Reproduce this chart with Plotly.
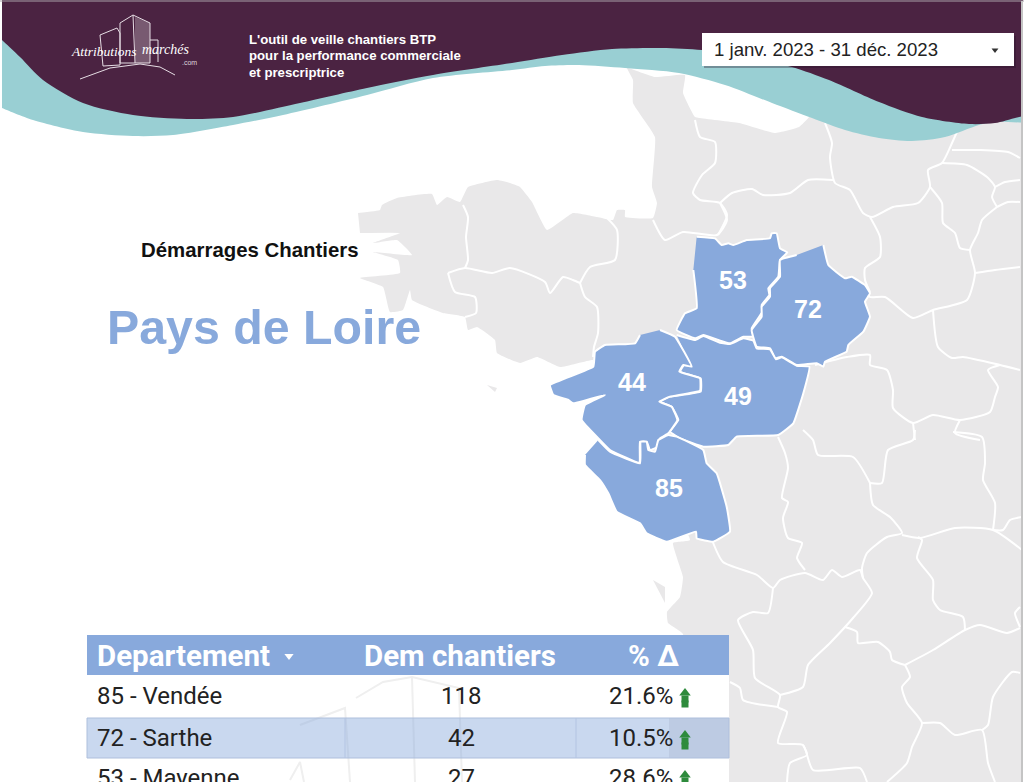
import plotly.graph_objects as go

# ---------- table data ----------
departements = ["85 - Vendée", "72 - Sarthe", "53 - Mayenne"]
dem_chantiers = [118, 42, 27]
pct_delta = ["21.6%", "10.5%", "28.6%"]
table_headers = ["Departement", "Dem chantiers", "% Δ"]
# ---------- texts ----------
title_small = "Démarrages Chantiers"
title_big = "Pays de Loire"
date_range = "1 janv. 2023 - 31 déc. 2023"
baseline = ["L'outil de veille chantiers BTP", "pour la performance commerciale", "et prescriptrice"]

# ---------- map outlines (image pixels) ----------
land = [(358,213),(380,210),(382,205),(397,198),(432,194),(437,205),(447,197),(460,202),(468,187),(497,180),
        (510,183),(520,187),(532,202),(547,230),(573,213),(597,217),(613,220),(617,210),(625,210),(625,217),
        (653,218),(657,203),(652,187),(655,137),(633,103),(633,80),(627,68),(655,77),(685,75),(683,93),(695,117),
        (699,118),(739,123),(775,133),(799,127),(809,117),(830,60),(1021,60),(1021,782),(669,782),(669,720),
        (683,634),(668,623),(667,612),(680,597),(683,577),(673,543),(690,540),(640,450),(600,365),(593,360),
        (560,367),(537,357),(520,363),(497,353),(495,340),(477,327),(468,330),(465,317),(443,313),(412,300),
        (410,290),(403,310),(390,312),(383,287),(360,278),(400,273),(398,260),(373,252),(412,255),(397,240),
        (373,243),(400,233),(360,233)]
islands = [[(653,580),(665,587),(665,603)], [(487,385),(497,388),(495,392)]]
borders = [
    [(463,205),(468,217),(466,237),(468,260),(465,268)],
    [(448,273),(465,268),(492,273),(510,268),(545,282),(550,293),(563,277),(573,280),(580,283)],
    [(448,273),(455,292),(475,297),(476,313),(465,317)],
    [(580,283),(585,297),(597,307),(598,333),(594,347),(593,357)],
    [(580,283),(590,267),(615,260),(617,230),(607,218)],
    [(653,220),(665,240),(683,232),(717,235),(727,220),(720,203)],
    [(695,120),(700,137),(715,142),(715,163),(702,175),(693,193),(700,200),(720,203),(727,215),(718,235)],
    [(720,203),(732,193),(752,189),(763,195),(790,193),(808,180),(833,180)],
    [(825,123),(832,143),(830,157),(835,183),(850,190),(863,213),(872,217),(893,207),(918,203),(930,187),
     (928,170),(942,163),(952,143),(960,125)],
    [(942,163),(967,165),(987,177),(995,187),(992,197),(997,207)],
    [(952,150),(980,150),(1008,152),(1020,158)],
    [(930,187),(942,203),(943,223),(955,233),(960,248),(970,250)],
    [(997,207),(982,220),(978,233),(970,250),(975,273),(967,300),(933,310),(913,318),(885,297),(870,297),(867,292)],
    [(975,273),(995,270),(1020,267)],
    [(870,217),(880,237),(880,257),(865,268),(865,280),(870,292)],
    [(933,310),(938,347),(952,358),(963,357),(1000,365),(1020,370)],
    [(1000,365),(988,370),(998,387),(995,397),(990,412),(960,420),(933,415),(913,423),(893,408),(893,390),
     (887,370),(870,365),(870,355),(847,357),(815,365)],
    [(960,420),(955,433),(980,440)],
    [(913,423),(915,440)],
    [(995,187),(1005,182),(1020,180)],
    [(997,207),(1008,202),(1020,202)],
    [(778,437),(785,453),(788,468),(782,498),(788,502),(783,518),(788,538),(802,543),(797,558),(805,570)],
    [(712,540),(723,562),(757,575),(773,588),(780,580),(805,573),(823,580),(832,570),(842,577),(860,570),
     (863,578),(872,593),(853,618),(830,643),(808,665),(803,687),(780,695)],
    [(773,588),(768,613),(753,612),(738,620),(753,650),(755,678),(780,695),(778,707),(787,712),(778,743),
     (803,745),(813,770),(860,768),(867,782)],
    [(730,682),(740,688),(743,700),(778,707)],
    [(803,745),(807,755),(790,763),(787,782)],
    [(845,627),(857,632),(858,643),(878,642),(890,652),(892,660),(905,665)],
    [(905,665),(910,677),(902,687),(907,703),(922,723),(912,747),(907,763),(887,782)],
    [(922,723),(940,723),(955,735),(982,730),(988,763),(995,782)],
    [(982,730),(988,725),(993,697),(1012,672),(1020,673)],
    [(905,665),(933,650),(965,630),(980,625),(1007,633),(1020,628)],
    [(965,630),(963,617),(940,610),(933,600),(933,580),(917,558),(922,540),(918,537)],
    [(870,483),(873,505),(890,517),(902,533),(887,537),(867,553),(862,568),(863,578)],
    [(902,535),(920,538),(955,528),(993,530),(1022,550)],
    [(993,530),(995,503),(983,480),(985,463),(982,437),(953,432)],
    [(870,483),(853,457),(818,455),(813,440),(803,430)],
    [(870,483),(882,483),(888,450),(913,440),(915,430)],
    [(993,530),(1003,530),(1010,520),(1022,517)],
    [(1020,607),(1015,613),(1020,627)],
]
# Pays de la Loire departments, (x, y) relative to the crop origin, thirds of a pixel
dept_codes = ["53", "72", "49", "44", "85"]
dept_label_xy = [(733,280), (808,309), (738,396), (632,382), (669,488)]
dept_53 = [(500,50),(555,55),(575,75),(595,70),(610,75),(650,60),(720,55),(725,40),(740,40),(750,85),(772,97),
           (750,120),(745,170),(715,205),(718,225),(695,255),(697,275),(665,325),(670,350),(640,350),(600,370),
           (565,360),(520,345),(495,355),(440,330),(465,280),(500,265),(490,150)]
dept_72 = [(880,75),(895,135),(945,175),(965,170),(1005,195),(1020,220),(1005,245),(1020,290),(1000,335),(955,375),
           (950,395),(885,425),(880,440),(860,430),(800,435),(755,410),(735,415),(720,385),(680,380),(665,330),
           (695,290),(695,260),(720,230),(720,205),(750,170),(750,120),(800,105)]
dept_49 = [(440,345),(495,360),(520,348),(570,368),(600,372),(640,355),(670,362),(680,385),(720,388),(738,418),
           (755,412),(800,437),(838,440),(820,520),(790,610),(745,645),(620,650),(595,675),(520,680),(450,655),
           (420,635),(445,600),(425,560),(390,545),(420,530),(512,515),(512,475),(450,455),(462,435),(482,437)]
dept_44 = [(390,330),(435,350),(485,440),(460,435),(448,455),(510,475),(510,512),(420,530),(388,545),(425,560),
           (442,600),(415,640),(390,655),(385,680),(360,690),(350,665),(330,665),(328,728),(240,690),(205,655),
           (155,600),(165,555),(225,525),(130,550),(115,540),(70,525),(60,495),(190,440),(195,395),(225,375),
           (315,370),(330,345)]
dept_85 = [(205,660),(240,695),(330,730),(332,665),(350,665),(355,690),(375,695),(385,660),(415,645),(440,650),
           (520,690),(530,730),(560,760),(590,860),(600,935),(550,965),(500,955),(498,935),(410,965),(350,940),
           (330,910),(260,875),(235,820),(210,780),(165,735),(165,705)]

# ---------- header wave ----------
maroon_edge = [(0,38),(2,40),(20,57),(43,80),(83,103),(133,115),(187,119),(233,117),(300,103),(367,88),(433,75),(512,63),
               (562,55),(612,49),(662,48),(702,50),(750,56),(792,67),(829,80),(879,102),(922,117),(969,124),(995,123),(1024,116)]
teal_edge = [(0,107),(2,108),(33,120),(83,132),(133,136),(173,135),(233,125),(283,115),(367,95),(433,78),(512,70),(545,66),
             (579,65),(625,68),(679,73),(725,85),(772,103),(812,118),(845,130),(879,138),(912,141),(945,137),(979,125),(995,122)]

# ---------- logo sketch ----------
logo_fill = [(135,17),(150,23),(150,63),(135,63)]
logo_lines = [
    [(100,35),(117,28),(120,33),(120,65),(103,66),(100,35)],
    [(120,23),(133,15),(150,23),(150,63),(120,63),(120,23)],
    [(133,15),(135,63)],
    [(150,40),(158,40),(158,62)],
    [(80,79),(110,68),(140,64),(160,67),(175,75)],
]
watermark_lines = [
    [(356,698),(383,682),(412,677),(459,688),(462,782)],
    [(412,677),(415,782)],
    [(300,725),(345,708),(350,782)],
    [(290,780),(300,762),(304,782)],
]

MAROON, TEAL, BLUE, LAND = "#4b2342", "#99cfd3", "#88a9dc", "#e9e8e9"
TXT = "#222222"
fig = go.Figure()

def xs(p): return [q[0] for q in p]
def ys(p): return [q[1] for q in p]
def poly(p, fill, line=None, w=0, smooth=0):
    ln = dict(color=line or fill, width=w)
    if smooth:
        ln.update(shape="spline", smoothing=smooth)
    fig.add_trace(go.Scatter(x=xs(p), y=ys(p), mode="lines", fill="toself", fillcolor=fill,
                             line=ln, hoverinfo="skip", showlegend=False))
def path(p, color, w, smooth=0):
    ln = dict(color=color, width=w)
    if smooth:
        ln.update(shape="spline", smoothing=smooth)
    fig.add_trace(go.Scatter(x=xs(p), y=ys(p), mode="lines", line=ln, hoverinfo="skip", showlegend=False))
def rect(x0, y0, x1, y1, fill):
    poly([(x0,y0),(x1,y0),(x1,y1),(x0,y1),(x0,y0)], fill)
def text(x, y, s, size, color=TXT, family="Liberation Sans", bold=False, anchor="left", italic=False):
    s = f"<b>{s}</b>" if bold else s
    s = f"<i>{s}</i>" if italic else s
    fig.add_annotation(x=x, y=y, text=s, showarrow=False, xanchor=anchor, yanchor="middle",
                       font=dict(family=family, size=size, color=color), borderpad=0, borderwidth=0)

# map
poly(land, LAND, smooth=0.35)
for isl in islands:
    poly(isl, LAND)
for b in borders:
    path(b, "#ffffff", 2, smooth=0.6)
for d in (dept_53, dept_72, dept_49, dept_44, dept_85):
    pts = [(530 + a / 3, 220 + c / 3) for a, c in d]
    poly(pts, BLUE, "#ffffff", 2, smooth=0.3)
for code, (lx, ly) in zip(dept_codes, dept_label_xy):
    text(lx, ly, code, 25, "#ffffff", bold=True, anchor="center")

# wave
poly([(-40,-40),(-40,38)] + teal_edge + [(1060,116),(1060,-40)], TEAL, smooth=0.8)
poly([(-40,-40),(-40,38)] + maroon_edge + [(1060,116),(1060,-40)], MAROON, smooth=0.8)
rect(0, 0, 2, 140, "#ffffff")
rect(1023, 0, 1024, 782, "#ffffff")
path([(0,1),(1024,1)], "#a9a2a8", 1)
path([(1022,1),(1022,782)], "#c4c4c4", 2)
poly(logo_fill, "rgba(255,255,255,0.25)")
for l in logo_lines:
    path(l, "#e6dde4", 1)
text(71, 51, "Attributions", 13.5, "#ffffff", family="Liberation Serif", italic=True)
text(142, 49, "marchés", 14, "#ffffff", family="Liberation Serif", italic=True)
text(197, 62, ".com", 7, "#ddd4dc", anchor="right")
for i, line in enumerate(baseline):
    text(249, 39 + i * 16.5, line, 13.2, "#ffffff", bold=True)

# date selector
rect(704, 36, 1016, 68, "rgba(40,20,40,0.35)")
rect(702, 33, 1014, 66, "#ffffff")
text(714, 49.5, date_range, 18.6, TXT)
fig.add_trace(go.Scatter(x=[995], y=[50], mode="markers", hoverinfo="skip", showlegend=False,
                         marker=dict(symbol="triangle-down", size=6, color="#333333")))

# table
rect(87, 675, 729, 718, "#ffffff")
rect(87, 718, 669, 758, "#ffffff")
rect(87, 758, 729, 782, "#ffffff")
for l in watermark_lines:
    path(l, "#efefef", 2)
rect(87, 635, 729, 675, BLUE)
rect(87, 718, 729, 758, "rgba(136,169,220,0.45)")
path([(87,718),(729,718),(729,758),(87,758),(87,718)], "#aebfdc", 1)
for sx in (345, 576):
    path([(sx,718),(sx,758)], "#b3c4e2", 1)
text(97, 656, table_headers[0], 29.5, "#ffffff", family="Roboto", bold=True)
text(460, 656, table_headers[1], 29.5, "#ffffff", family="Roboto", bold=True, anchor="center")
text(653, 656, table_headers[2], 29.5, "#ffffff", family="Roboto", bold=True, anchor="center")
fig.add_trace(go.Scatter(x=[289], y=[656], mode="markers", hoverinfo="skip", showlegend=False,
                         marker=dict(symbol="triangle-down", size=8, color="#ffffff")))
row_y = [696, 738, 778]
for dep, n, p, y in zip(departements, dem_chantiers, pct_delta, row_y):
    text(97, y, dep, 24, family="Roboto")
    text(461, y, str(n), 24, family="Roboto", anchor="center")
    text(673, y, p, 24, family="Roboto", anchor="right")
for dy, sym, sz in ((8, "square", 7), (3, "square", 7), (-3, "triangle-up", 10)):
    fig.add_trace(go.Scatter(x=[685] * 3, y=[y + dy for y in row_y], mode="markers", hoverinfo="skip", showlegend=False,
                             marker=dict(symbol=sym, size=sz, color="#2e8b3c", line=dict(width=0))))

# titles
text(141, 250, title_small, 20.4, "#111111", bold=True)
text(107, 327, title_big, 48.3, BLUE, bold=True)

fig.update_layout(width=1024, height=782, margin=dict(l=0, r=0, t=0, b=0), autosize=False,
                  paper_bgcolor="#ffffff", plot_bgcolor="#ffffff", showlegend=False,
                  xaxis=dict(range=[0, 1024], visible=False, fixedrange=True),
                  yaxis=dict(range=[782, 0], visible=False, fixedrange=True))
fig.write_html("out.html", config={"displayModeBar": False},
               post_script="document.body.style.margin='0';document.body.style.overflow='hidden';")
